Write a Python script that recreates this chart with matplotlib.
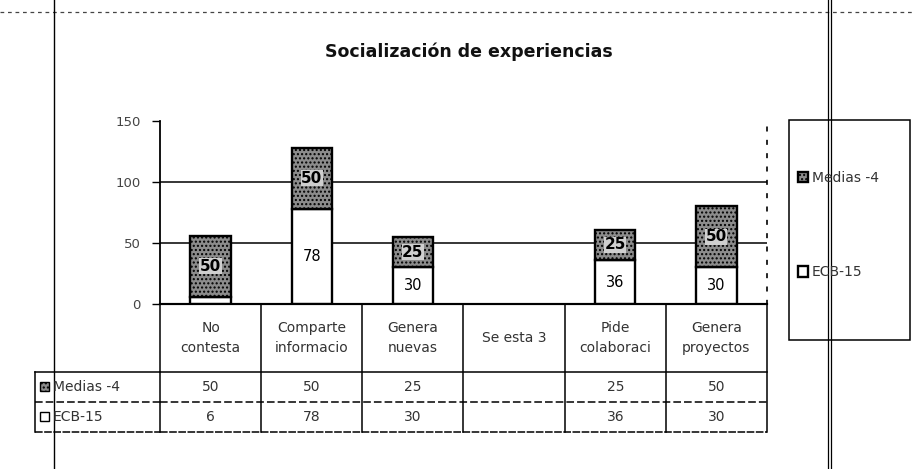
import matplotlib
matplotlib.use("Agg")
import matplotlib.pyplot as plt
import numpy as np
from matplotlib.patches import Rectangle
from matplotlib.transforms import blended_transform_factory

# ---------------- data ----------------
title = "Socialización de experiencias"
categories = ["No\ncontesta", "Comparte\ninformacio", "Genera\nnuevas",
              "Se esta 3", "Pide\ncolaboraci", "Genera\nproyectos"]
series_names = ["Medias -4", "ECB-15"]
medias = [50, 50, 25, None, 25, 50]
ecb = [6, 78, 30, None, 36, 30]
yticks = [0, 50, 100, 150]

# ---------------- figure ----------------
W, H = 914, 469
fig = plt.figure(figsize=(W / 100, H / 100), dpi=100)
fig.patch.set_facecolor("white")


def rect_px(x0, y0, x1, y1):
    return [x0 / W, 1 - y1 / H, (x1 - x0) / W, (y1 - y0) / H]


AX_L, AX_T, AX_R, AX_B = 160, 121, 767, 304
ax = fig.add_axes(rect_px(AX_L, AX_T, AX_R, AX_B))
ov = fig.add_axes([0, 0, 1, 1], zorder=5)
ov.set_xlim(0, W)
ov.set_ylim(H, 0)
ov.axis("off")
ov.patch.set_alpha(0)

x = np.arange(len(categories))
valid = np.array([v is not None for v in ecb])
ecb_v = np.array([v if v is not None else 0 for v in ecb], dtype=float)
med_v = np.array([v if v is not None else 0 for v in medias], dtype=float)

MED_FACE = "#8c8c8c"
b_ecb = ax.bar(x[valid], ecb_v[valid], width=0.4, color="white",
               edgecolor="black", linewidth=1.7, zorder=3, label=series_names[1])
b_med = ax.bar(x[valid], med_v[valid], width=0.4, bottom=ecb_v[valid],
               facecolor=MED_FACE, hatch="....", edgecolor="black",
               linewidth=1.7, zorder=3, label=series_names[0])

ax.bar_label(b_med, labels=[f"{v:g}" for v in med_v[valid]], label_type="center",
             fontsize=11, fontweight="bold", color="black", zorder=6,
             bbox=dict(facecolor="#cfcfcf", edgecolor="none", pad=0.3))
ax.bar_label(b_ecb, labels=[f"{v:g}" if v >= 10 else "" for v in ecb_v[valid]],
             label_type="center", fontsize=10.5, color="black", zorder=6)

ax.set_xlim(-0.5, len(categories) - 0.5)
ax.set_ylim(yticks[0], yticks[-1])
ax.set_yticks(yticks)
ax.set_yticklabels([str(t) for t in yticks], fontsize=9.5, color="#444444")
ax.tick_params(axis="y", direction="out", length=6, width=1, pad=8, color="black")
ax.set_xticks([])
for v in yticks[1:-1]:
    ax.axhline(v, color="black", linewidth=1.1, zorder=1)
ax.spines["top"].set_visible(False)
ax.spines["right"].set_linestyle((0, (2, 6)))
ax.spines["right"].set_linewidth(1.2)
ax.spines["left"].set_linewidth(1.3)
ax.spines["bottom"].set_linewidth(1.5)

# ---------------- data table ----------------
tr = blended_transform_factory(ax.transData, ov.transData)
ROW_Y = [304, 372, 402, 432]
LABEL_X0 = 35
x_left, x_right = -0.5, len(categories) - 0.5
lw_t = 1.1
ov.plot([x_left, x_right], [ROW_Y[0], ROW_Y[0]], transform=tr, color="black", lw=1.5)
for yy, ls in [(ROW_Y[1], "-"), (ROW_Y[2], (0, (5, 2))), (ROW_Y[3], (0, (5, 1)))]:
    ov.plot([x_left, x_right], [yy, yy], transform=tr, color="black", lw=lw_t, ls=ls)
    ov.plot([LABEL_X0, AX_L], [yy, yy], color="black", lw=lw_t, ls=ls)
for i in range(len(categories) + 1):
    ov.plot([i - 0.5, i - 0.5], [ROW_Y[0], ROW_Y[3]], transform=tr,
            color="black", lw=lw_t)
ov.plot([LABEL_X0, LABEL_X0], [ROW_Y[1], ROW_Y[3]], color="black", lw=lw_t)

for i, c in enumerate(categories):
    ov.text(i, (ROW_Y[0] + ROW_Y[1]) / 2, c, transform=tr, ha="center",
            va="center", fontsize=10, color="#333333", linespacing=1.6)
for r, series in enumerate([medias, ecb]):
    yc = (ROW_Y[r + 1] + ROW_Y[r + 2]) / 2
    for i, v in enumerate(series):
        if v is not None:
            ov.text(i, yc, f"{v}", transform=tr, ha="center", va="center",
                    fontsize=10, color="#333333")
for r, name in enumerate(series_names):
    yc = (ROW_Y[r + 1] + ROW_Y[r + 2]) / 2
    if r == 0:
        key = Rectangle((40, yc - 4.5), 9, 9, facecolor=MED_FACE, hatch="....",
                        edgecolor="black", lw=1)
    else:
        key = Rectangle((40, yc - 4.5), 9, 9, facecolor="white",
                        edgecolor="black", lw=1)
    ov.add_patch(key)
    ov.text(53, yc, name, ha="left", va="center", fontsize=10, color="#333333")

# ---------------- legend ----------------
ov.add_patch(Rectangle((789, 120), 121, 220, facecolor="none",
                       edgecolor="black", lw=1.1))
leg = fig.legend(handles=[b_med, b_ecb], labels=series_names, loc="center left",
                 bbox_to_anchor=(791 / W, 1 - 225 / H), frameon=False,
                 fontsize=10, labelspacing=5.8, handlelength=0.75,
                 handleheight=0.75, handletextpad=0.25, borderpad=0)
for t in leg.get_texts():
    t.set_color("#333333")

# ---------------- title ----------------
fig.text(469 / W, 1 - 52 / H, title, ha="center", va="center",
         fontsize=12.5, fontweight="bold", color="#111111")

# ---------------- scan borders ----------------
ov.plot([0, W], [12, 12], color="#444444", lw=0.9, ls=(0, (3, 3)))
ov.plot([54, 54], [0, H], color="black", lw=1.0)
ov.plot([828, 828], [0, H], color="black", lw=0.9)
ov.plot([831, 831], [0, H], color="black", lw=0.9)

fig.savefig("out.png", dpi=100, facecolor="white")
